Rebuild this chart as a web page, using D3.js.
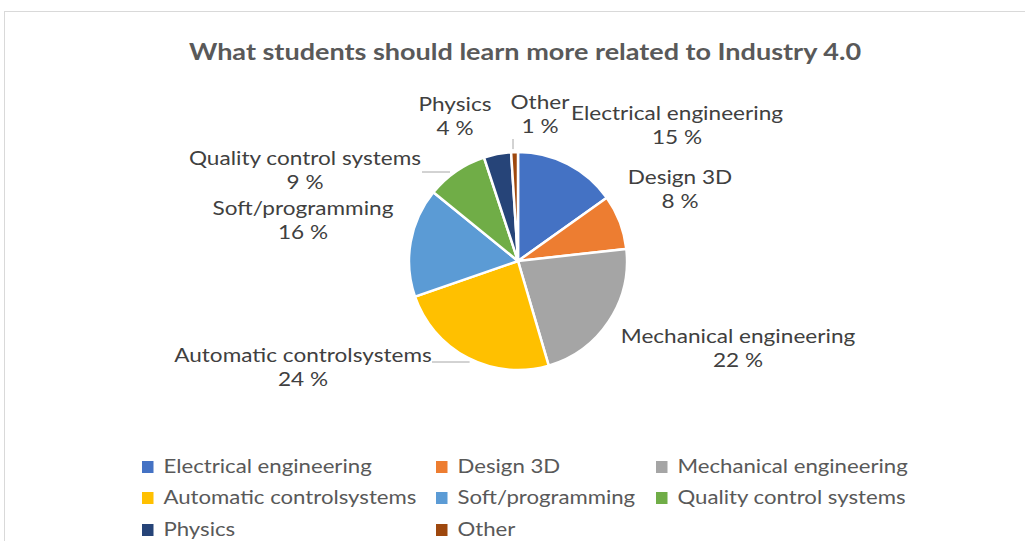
<!DOCTYPE html>
<html>
<head>
<meta charset="utf-8">
<script src="https://cdn.jsdelivr.net/npm/d3@7"></script>
<style>
  body { margin: 0; background: #fff; }
  svg text { font-family: Lato, "Open Sans", sans-serif; }
</style>
</head>
<body>
<div id="chart"></div>
<script>
var categories = ["Electrical engineering", "Design 3D", "Mechanical engineering",
    "Automatic controlsystems", "Soft/programming", "Quality control systems",
    "Physics", "Other"];
var values = [15, 8, 22, 24, 16, 9, 4, 1];
var colors = ["#4472C4", "#ED7D31", "#A5A5A5", "#FFC000", "#5B9BD5", "#70AD47", "#264478", "#9E480E"];

var svgWidth = 1025;
var svgHeight = 541;

// pie geometry
var cx = 518, cy = 261, radius = 109;
var textStretch = 1.13; // reference text is wider than Lato
var legendStretch = 1.11;

// data label spots (offset from pie centre, first line baseline)
// lead: leader line start and its direction ("h" or "v")
var labelPos = [
    {dx: 159, dy: -141},
    {dx: 162, dy: -77},
    {dx: 220, dy: 82},
    {dx: -215, dy: 101, lead: {x: -86, y: 101, dir: "h"}},
    {dx: -215, dy: -46},
    {dx: -213, dy: -96, lead: {x: -96, y: -89, dir: "h"}},
    {dx: -63, dy: -150},
    {dx: 22, dy: -152, lead: {x: -5, y: -122, dir: "v"}}
];

var svg = d3.select("#chart")
    .append("svg")
    .attr("width", svgWidth)
    .attr("height", svgHeight);

svg.append("rect")
    .attr("x", 4.5)
    .attr("y", 11.5)
    .attr("width", 1100)
    .attr("height", 600)
    .attr("fill", "#fff")
    .attr("stroke", "#d9d9d9");

svg.append("text")
    .attr("transform", "translate(525, 60) scale(1.15, 1)")
    .attr("text-anchor", "middle")
    .attr("font-size", "23.5px")
    .attr("font-weight", "bold")
    .attr("fill", "#595959")
    .text("What students should learn more related to Industry 4.0");

var pie = d3.pie().sort(null).value(d => d.value);
var data = categories.map((c, i) => ({name: c, value: values[i], color: colors[i], pos: labelPos[i]}));
var arcs = pie(data);
var arc = d3.arc().innerRadius(0).outerRadius(radius);

var pieGroup = svg.append("g")
    .attr("transform", `translate(${cx}, ${cy})`);

pieGroup.selectAll("path")
    .data(arcs)
    .enter()
    .append("path")
    .attr("d", arc)
    .attr("fill", d => d.data.color)
    .attr("stroke", "#fff")
    .attr("stroke-width", 2.5);

// leader lines end just outside the pie edge
var leadR = radius + 3;
pieGroup.selectAll("line.leader")
    .data(arcs.filter(d => d.data.pos.lead))
    .enter()
    .append("line")
    .attr("class", "leader")
    .attr("x1", d => d.data.pos.lead.x)
    .attr("y1", d => d.data.pos.lead.y)
    .attr("x2", d => {
        var l = d.data.pos.lead;
        if (l.dir == "v") return l.x;
        return Math.sign(l.x) * Math.sqrt(leadR * leadR - l.y * l.y);
    })
    .attr("y2", d => {
        var l = d.data.pos.lead;
        if (l.dir == "h") return l.y;
        return Math.sign(l.y) * Math.sqrt(leadR * leadR - l.x * l.x);
    })
    .attr("stroke", "#a6a6a6")
    .attr("stroke-width", 1);

var labels = pieGroup.selectAll("text.lbl")
    .data(arcs)
    .enter()
    .append("text")
    .attr("class", "lbl")
    .attr("transform", d => `translate(${d.data.pos.dx}, ${d.data.pos.dy}) scale(${textStretch}, 1)`)
    .attr("text-anchor", "middle")
    .attr("font-size", "20px")
    .attr("fill", "#404040");

labels.append("tspan")
    .attr("x", 0)
    .attr("y", 0)
    .text(d => d.data.name);

labels.append("tspan")
    .attr("x", 0)
    .attr("y", 24)
    .text(d => d.data.value + " %");

// legend
var legendCols = [142, 436, 656];
var legendRows = [467, 498, 530];
var legend = svg.selectAll("g.legend")
    .data(data)
    .enter()
    .append("g")
    .attr("class", "legend")
    .attr("transform", (d, i) => {
        var col = i < 6 ? i % 3 : i - 6;
        var row = Math.floor(i / 3);
        return `translate(${legendCols[col]}, ${legendRows[row]})`;
    });

legend.append("rect")
    .attr("x", 0)
    .attr("y", -6)
    .attr("width", 11.5)
    .attr("height", 12)
    .attr("fill", d => d.color);

legend.append("text")
    .attr("transform", `translate(21.5, 6) scale(${legendStretch}, 1)`)
    .attr("font-size", "20px")
    .attr("fill", "#595959")
    .text(d => d.name);
</script>
</body>
</html>
